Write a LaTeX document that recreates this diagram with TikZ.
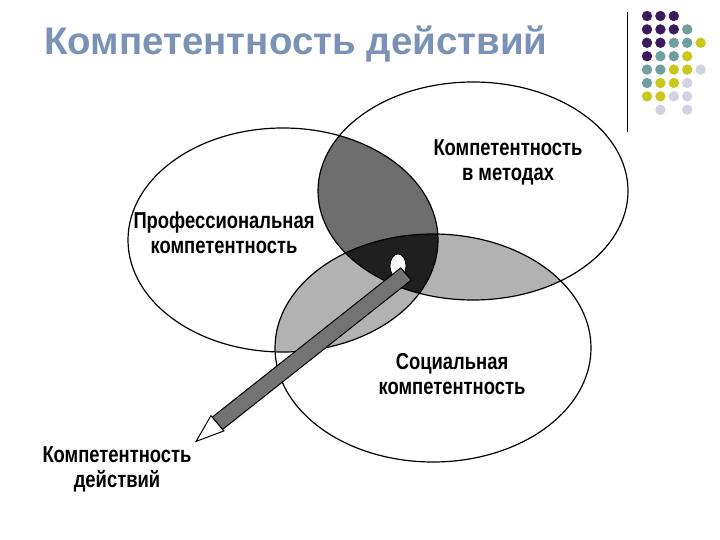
\documentclass[tikz,border=0pt]{standalone}
\usepackage{fontspec}
\setmainfont{Liberation Sans}
\definecolor{dpur}{HTML}{3B1A5E}\definecolor{dteal}{HTML}{6FA0A0}
\definecolor{dyel}{HTML}{C8C81E}\definecolor{dlav}{HTML}{D2D2E2}
\definecolor{ttl}{HTML}{7A92B6}
\begin{document}
\begin{tikzpicture}[x=1pt,y=-1pt,
 lbl/.style={font=\bfseries\fontsize{23}{25}\selectfont,xscale=0.8,align=center,inner sep=0},
 dt/.style={radius=5.2}]
\useasboundingbox (0,0) rectangle (720,540);
\def\EA{(283,240) ellipse [x radius=155,y radius=112]}
\def\EB{(473,191) ellipse [x radius=155,y radius=109]}
\def\EC{(433,348) ellipse [x radius=158,y radius=114]}
\begin{scope}\clip \EA; \fill[black!57] \EB; \fill[black!30] \EC; \end{scope}
\begin{scope}\clip \EB; \fill[black!30] \EC; \end{scope}
\begin{scope}\clip \EA; \clip \EB; \fill[black!88] \EC; \end{scope}
\draw[line width=1.2pt] \EA; \draw[line width=1.2pt] \EB; \draw[line width=1.2pt] \EC;
% pencil
\fill[white,draw=black,line width=0.8pt] (398,266) ellipse [x radius=8,y radius=12];
\draw[fill=black!55,line width=1pt] (411.2,280.1) -- (400.8,267.9) -- (212.2,417.2) -- (222.6,429.4) -- cycle;
\draw[fill=white,line width=1pt] (223.9,430.9) -- (210.9,415.7) -- (196.1,441.4) -- cycle;
\node[lbl] (m) at (508,162) {Компетентность\\в методах};
\node[lbl] (p) at (224,233) {Профессиональная\\компетентность};
\node[lbl] (s) at (452,374) {Социальная\\компетентность};
\node[lbl] (d) at (117,469) {Компетентность\\действий};
\node[anchor=west,font=\bfseries\fontsize{38.5}{42}\selectfont,text=ttl,inner sep=0] (t) at (44,44) {Компетентность действий};
\draw[line width=1pt] (627,12) -- (627,132);
\foreach \c/\x/\y in {dpur/0/0,dpur/1/0,dpur/2/0,
 dpur/0/1,dpur/1/1,dpur/2/1,dteal/3/1,
 dpur/0/2,dpur/1/2,dteal/2/2,dteal/3/2,dyel/4/2,
 dpur/0/3,dteal/1/3,dteal/2/3,dyel/3/3,
 dteal/0/4,dteal/1/4,dyel/2/4,dyel/3/4,dlav/4/4,
 dteal/0/5,dyel/1/5,dyel/2/5,dlav/3/5,
 dyel/0/6,dyel/1/6,dlav/2/6,dlav/3/6,
 dlav/1/7,dlav/3/7}
 \fill[\c] (647+13.4*\x,16+13.4*\y) circle[dt];
\end{tikzpicture}
\end{document}
